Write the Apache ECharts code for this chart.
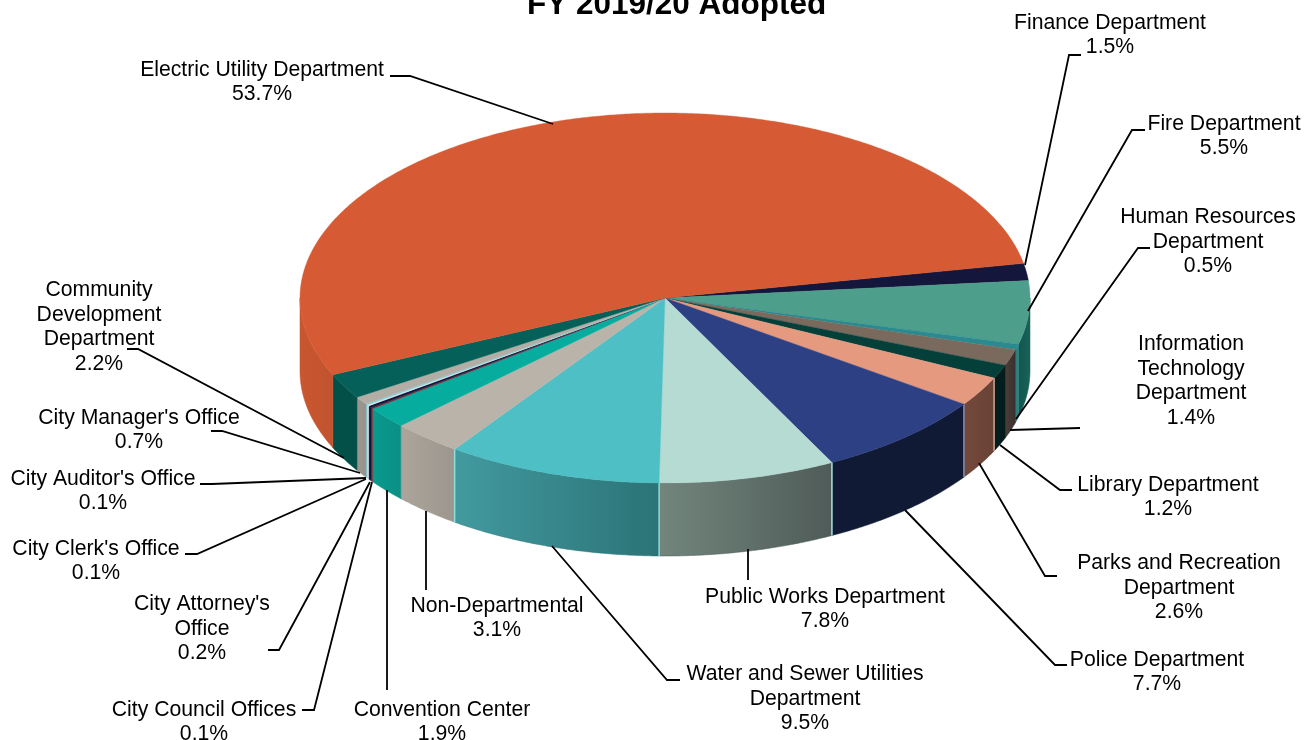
<!DOCTYPE html>
<html><head><meta charset="utf-8">
<style>html,body{margin:0;padding:0;background:#fff}#c{width:1314px;height:740px}</style>
<script src="https://cdn.jsdelivr.net/npm/echarts@6/dist/echarts.min.js"></script>
</head><body><div id="c"></div>
<script>
const titleText = 'FY 2019/20 Adopted';
const departments = ['Finance Department','Fire Department','Human Resources\nDepartment','Information\nTechnology\nDepartment','Library Department','Parks and Recreation\nDepartment','Police Department','Public Works Department','Water and Sewer Utilities\nDepartment','Non-Departmental','Convention Center','City Council Offices',"City Attorney's\nOffice","City Clerk's Office","City Auditor's Office","City Manager's Office",'Community\nDevelopment\nDepartment','Electric Utility Department'];
const shares = [1.5,5.5,0.5,1.4,1.2,2.6,7.7,7.8,9.5,3.1,1.9,0.1,0.2,0.1,0.1,0.7,2.2,53.7];

// styling, separate from the data
const topColors = ['#14163c','#4e9e8c','#2a8a8f','#7a6a5e','#053f3a','#e59a80','#2c4083','#b5dbd3','#4ebfc5','#bab3aa','#06ac9e','#7a2f3a','#14163c','#d8e8ea','#7fd0d8','#b3aea5','#05605a','#d65a33'];
const wallFrom = ['#14163c','#12564d','#2a7f80','#4a3e38','#031c1e','#74493b','#111a35','#72867d','#429a9f','#aba59b','#0a9a8d','#7a2f3a','#14163c','#d8e8ea','#85c8cf','#9d988f','#035049','#c9572f'];
const wallTo   = ['#14163c','#17635a','#2a7f80','#3a302c','#031c1e','#694236','#111a35','#4f5b58','#2b7377','#9c968e','#0a8f84','#7a2f3a','#14163c','#d8e8ea','#85c8cf','#96918a','#035049','#c0532f'];
const seamColors = [null,null,null,null,null,'#cfa594','#8a93b0','#a6e0e0','#8fdcdc','#8fdcdc',null,null,null,null,null,null,null,null];
// label block centre and leader path for each department
const labelCentres = [[1110,35],[1224,136],[1208,242],[1191,381],[1168,497],[1179,588],[1157,672],[825,609],[805,699],[497,618],[442,722],[204,722],[202,629],[96,561],[103,491],[139,430],[99,327],[262,82]];
const leaders = [
 [[1025,265],[1069,55],[1081,55]],[[1028,311],[1132,130],[1145,130]],[[1016,419],[1138,248],[1150,248]],
 [[1010,430],[1080,428]],[[1000,445],[1060,490],[1072,490]],[[979,463],[1045,576],[1057,576]],
 [[905,510],[1055,665],[1067,665]],[[748,549],[748,580]],[[552,546],[667,680],[680,680]],
 [[426,511],[426,590]],[[387,490],[387,690]],[[372,482],[314,710],[302,710]],
 [[370,482],[279,650],[268,650]],[[366,479],[197,554],[185,554]],[[366,478],[212,484],[200,484]],
 [[360,473],[222,431],[211,431]],[[344,458],[138,349],[127,349]],[[553,124],[410,76],[390,76]]
];
const pie = {cx:665, cy:298, rx:365, ry:185, depth:73, startDeg:10.8};

const total = shares.reduce((a,b)=>a+b,0);
const spans = []; let run = pie.startDeg;
shares.forEach(v=>{const next = run - v/total*360; spans.push([run,next]); run = next;});
const rim = (deg,dy)=>{const r=deg*Math.PI/180; return [pie.cx+pie.rx*Math.cos(r), pie.cy-pie.ry*Math.sin(r)+(dy||0)];};
function arc(a,b,dy){const n=Math.max(2,Math.ceil(Math.abs(a-b)/0.5)); const p=[]; for(let i=0;i<=n;i++) p.push(rim(a+(b-a)*i/n,dy)); return p;}

function renderSlice(params){
  const i=params.dataIndex, [a,b]=spans[i], kids=[];
  // front wall: the portion of the rim facing the viewer (-180..0 degrees)
  const lo=Math.max(b,-180), hi=Math.min(a,0);
  if(hi>lo){
    const pts=arc(hi,lo,0).concat(arc(lo,hi,pie.depth));
    kids.push({type:'polygon',shape:{points:pts},style:{fill:new echarts.graphic.LinearGradient(0,0,1,0,[{offset:0,color:wallFrom[i]},{offset:1,color:wallTo[i]}]),stroke:wallTo[i],lineWidth:0.5}});
  }
  if(seamColors[i] && a<0 && a>-180){
    const t=rim(a), u=rim(a,pie.depth);
    kids.push({type:'line',shape:{x1:t[0],y1:t[1],x2:u[0],y2:u[1]},style:{stroke:seamColors[i],lineWidth:1.5}});
  }
  const top=[[pie.cx,pie.cy]].concat(arc(a,b,0));
  kids.push({type:'polygon',shape:{points:top},style:{fill:topColors[i],stroke:topColors[i],lineWidth:0.4}});
  return {type:'group',children:kids};
}
function renderLabel(params,api){
  const i=params.dataIndex, c=labelCentres[i], L=leaders[i];
  return {type:'group',children:[
    {type:'polyline',shape:{points:L},style:{stroke:'#000',lineWidth:1.8,fill:null}},
    {type:'text',style:{x:c[0],y:c[1],text:departments[i]+'\n'+api.value(0).toFixed(1)+'%',align:'center',verticalAlign:'middle',fontFamily:'Liberation Sans',fontSize:21.2,lineHeight:24.6,fill:'#000'}}
  ]};
}
const chart=echarts.init(document.getElementById('c'));
chart.setOption({
  animation:false,
  title:{text:titleText,left:522,top:-16,textStyle:{fontFamily:'Liberation Sans',fontWeight:'bold',fontSize:31.5,color:'#000'}},
  series:[
    {type:'custom',coordinateSystem:'none',renderItem:renderSlice,data:shares,silent:true,z:1},
    {type:'custom',coordinateSystem:'none',renderItem:renderLabel,data:shares,silent:true,z:2}
  ]
});
</script></body></html>
